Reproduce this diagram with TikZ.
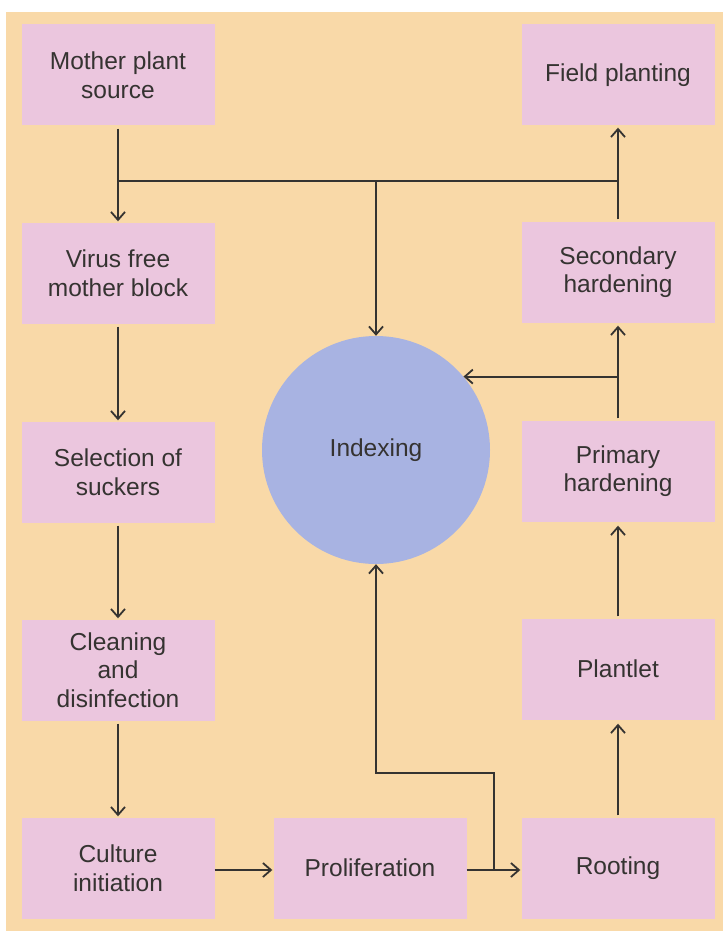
\documentclass[tikz,border=0pt]{standalone}
\usepackage{fontspec}
\setmainfont{Liberation Sans}
\usetikzlibrary{arrows.meta}
\definecolor{bgpeach}{HTML}{F9D9A8}
\definecolor{boxpink}{HTML}{EBC6DE}
\definecolor{circblue}{HTML}{A8B3E2}
\definecolor{ink}{HTML}{353331}
\begin{document}
\begin{tikzpicture}[x=1pt,y=-1pt,
  box/.style={rectangle, fill=boxpink, minimum width=193pt, minimum height=101pt,
    inner sep=0pt, align=center, font=\fontsize{24.5}{28.5}\selectfont, text=ink},
  conn/.style={draw=ink, line width=2.1pt},
  arr/.style={conn, -{Straight Barb[length=8pt,width=14pt,line width=1.8pt]}},
]
\fill[white] (0,0) rectangle (723,931);
\useasboundingbox (0,0) rectangle (723,931);
\fill[bgpeach] (6,12) rectangle (723,931);

% left column
\node[box] (mother) at (118,75) {Mother plant\\source};
\node[box] (virus) at (118,273) {Virus free\\mother block};
\node[box] (select) at (118,472) {Selection of\\suckers};
\node[box] (clean) at (118,670) {Cleaning\\and\\disinfection};
\node[box] (culture) at (118,868) {Culture\\initiation};
% middle
\node[box] (prolif) at (370,868) {Proliferation};
\node[circle, fill=circblue, minimum size=228pt, inner sep=0pt, text=ink,
      font=\fontsize{24.5}{28.5}\selectfont] (idx) at (376,450) {Indexing};
% right column
\node[box] (field) at (618,75) {Field planting};
\node[box] (second) at (618,272) {Secondary\\hardening};
\node[box] (primary) at (618,471) {Primary\\hardening};
\node[box] (plantlet) at (618,669) {Plantlet};
\node[box] (rooting) at (618,868) {Rooting};

% junction coordinates
\coordinate (jl) at (mother.south |- 0,181);
\coordinate (jm) at (idx.north |- 0,181);
\coordinate (jr) at (second.north |- 0,181);
\coordinate (jp) at (primary.north |- idx.40);
\coordinate (jb) at (494,870);
\coordinate (jb2) at (494,773);
\coordinate (jb3) at (idx.south |- 0,773);

% left chain
\draw[arr, shorten <=3pt, shorten >=1pt] (mother.south) -- (virus.north);
\draw[arr, shorten <=3pt, shorten >=1pt] (virus.south) -- (select.north);
\draw[arr, shorten <=3pt, shorten >=1pt] (select.south) -- (clean.north);
\draw[arr, shorten <=3pt, shorten >=1pt] (clean.south) -- (culture.north);
% top bus
\draw[conn] (jl) -- (jr);
\draw[arr] (jm) -- (idx.north);
\draw[arr, shorten <=2pt, shorten >=2pt] (second.north) -- (field.south);
% right chain
\draw[arr, shorten <=2pt, shorten >=3pt] (primary.north) -- (second.south);
\draw[arr] (jp) -- (idx.40);
\draw[arr, shorten <=2pt, shorten >=4pt] (plantlet.north) -- (primary.south);
\draw[arr, shorten <=2pt, shorten >=4pt] (rooting.north) -- (plantlet.south);
% bottom row
\draw[arr, shorten >=1pt] (culture.east |- 0,870) -- (prolif.west |- 0,870);
\draw[arr, shorten >=1pt] (prolif.east |- 0,870) -- (rooting.west |- 0,870);
\draw[arr] (jb) -- (jb2) -- (jb3) -- (idx.south);
\end{tikzpicture}
\end{document}
